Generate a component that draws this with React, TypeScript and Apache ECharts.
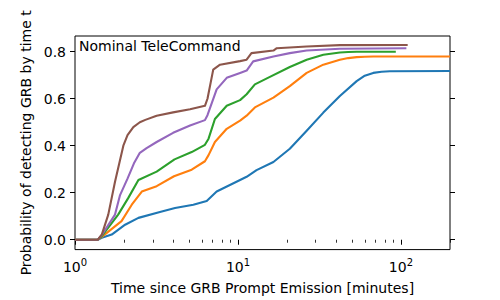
import React, { useEffect, useRef } from "react";
import * as echarts from "echarts";

const seriesColors = ["#1f77b4", "#ff7f0e", "#2ca02c", "#9467bd", "#8c564b"];

const blue: [number, number][] = [
  [1, 0], [1.38, 0], [1.46, 0.008], [1.68, 0.022], [2.03, 0.064], [2.45, 0.093],
  [3.32, 0.118], [4.11, 0.135], [5.32, 0.149], [6.43, 0.165], [7.4, 0.205],
  [10.3, 0.254], [11.3, 0.268], [13.0, 0.296], [16.5, 0.331], [20.8, 0.387],
  [26.4, 0.464], [33.4, 0.541], [42.2, 0.612], [53.5, 0.675], [60, 0.698],
  [67.6, 0.71], [76, 0.715], [85.6, 0.717], [200, 0.718],
];
const orange: [number, number][] = [
  [1, 0], [1.38, 0], [1.46, 0.012], [1.93, 0.079], [2.23, 0.149], [2.57, 0.205],
  [3.17, 0.228], [4.05, 0.27], [5.2, 0.298], [6.27, 0.334], [6.6, 0.36],
  [7.05, 0.401], [7.22, 0.416], [8.53, 0.472], [10.3, 0.507], [11.3, 0.528],
  [12.7, 0.563], [16.5, 0.605], [20.8, 0.654], [26.4, 0.71], [33.4, 0.745],
  [42.2, 0.766], [47.5, 0.773], [53.5, 0.777], [60, 0.779], [67.6, 0.78], [200, 0.78],
];
const green: [number, number][] = [
  [1, 0], [1.38, 0], [1.46, 0.015], [1.84, 0.107], [2.12, 0.177], [2.45, 0.254],
  [3.17, 0.29], [4.08, 0.342], [5.2, 0.373], [6.27, 0.404], [6.6, 0.43],
  [7.22, 0.514], [8.53, 0.57], [10.3, 0.594], [11.3, 0.619], [12.7, 0.661],
  [15.7, 0.693], [20.8, 0.735], [26.4, 0.766], [33.4, 0.787], [42.2, 0.797],
  [47.5, 0.799], [53.5, 0.8], [93, 0.8],
];
const purple: [number, number][] = [
  [1, 0], [1.38, 0], [1.46, 0.02], [1.76, 0.107], [1.89, 0.19], [2.1, 0.26],
  [2.3, 0.325], [2.5, 0.37], [2.75, 0.39], [3.17, 0.416], [4.0, 0.455], [5.08, 0.486],
  [6.27, 0.509], [6.5, 0.53], [7.4, 0.64], [8.53, 0.689], [10.3, 0.71],
  [11.3, 0.72], [12.4, 0.759], [16.5, 0.78], [20.8, 0.794], [26.4, 0.805],
  [42.2, 0.813], [108, 0.815],
];
const brown: [number, number][] = [
  [1, 0], [1.38, 0], [1.46, 0.022], [1.6, 0.107], [1.76, 0.247], [1.98, 0.4],
  [2.1, 0.445], [2.28, 0.479], [2.5, 0.5], [2.7, 0.51], [3.17, 0.528], [4.0, 0.542],
  [5.08, 0.555], [6.27, 0.57], [6.5, 0.6], [7.05, 0.724], [7.76, 0.745], [10.3, 0.76],
  [11.3, 0.766], [12.1, 0.794], [16.5, 0.805], [17.3, 0.815], [26.4, 0.822],
  [42.2, 0.828], [110, 0.829],
];

const allSeries = [blue, orange, green, purple, brown];
const xMajorTicks = [1, 10, 100];
const xMinorTicks = [2, 3, 4, 5, 6, 7, 8, 9, 20, 30, 40, 50, 60, 70, 80, 90, 200];
const yTicks = [0, 0.2, 0.4, 0.6, 0.8];
const annotation = "Nominal TeleCommand";
const xTitle = "Time since GRB Prompt Emission [minutes]";
const yTitle = "Probability of detecting GRB by time t";

const FONT = "DejaVu Sans";

export default function App() {
  const ref = useRef<HTMLDivElement>(null);
  useEffect(() => {
    document.body.style.margin = "0";
    const chart = echarts.init(ref.current!, null, { renderer: "svg" });
    const xRange = { min: 1, max: 200 };
    const yRange = { min: -0.042, max: 0.867 };
    chart.setOption({
      animation: false,
      backgroundColor: "#fff",
      textStyle: { fontFamily: FONT },
      grid: {
        left: 75, right: 50, top: 36, bottom: 48,
        show: true, borderColor: "#000", borderWidth: 1,
        backgroundColor: "transparent",
      },
      xAxis: [
        {
          type: "log", logBase: 10, ...xRange,
          axisLine: { show: false },
          splitLine: { show: false },
          axisTick: { show: true, length: 5, customValues: xMajorTicks, lineStyle: { color: "#000", width: 1 } },
          axisLabel: {
            customValues: xMajorTicks,
            margin: 9,
            color: "#000",
            formatter: (v: number) => `{a|10}{b|${Math.round(Math.log10(v))}}`,
            rich: {
              a: { fontSize: 14, fontFamily: FONT, color: "#000", lineHeight: 16 },
              b: { fontSize: 10, fontFamily: FONT, color: "#000", padding: [0, 0, 9, 0], lineHeight: 12 },
            },
          },
          name: xTitle,
          nameLocation: "middle",
          nameGap: 31,
          nameTextStyle: { fontSize: 14, fontFamily: FONT, color: "#000" },
        },
        {
          type: "log", logBase: 10, ...xRange,
          position: "bottom",
          axisLine: { show: false },
          splitLine: { show: false },
          axisTick: { show: true, length: 3, customValues: xMinorTicks, lineStyle: { color: "#000", width: 0.8 } },
          axisLabel: { show: false },
        },
      ],
      yAxis: [
        {
          type: "value", ...yRange,
          axisLine: { show: false },
          splitLine: { show: false },
          axisTick: { show: true, length: 5, customValues: yTicks, lineStyle: { color: "#000", width: 1 } },
          axisLabel: {
            customValues: yTicks,
            margin: 9,
            fontSize: 14,
            fontFamily: FONT,
            color: "#000",
            formatter: (v: number) => v.toFixed(1),
          },
          name: yTitle,
          nameLocation: "middle",
          nameGap: 36,
          nameTextStyle: { fontSize: 14, fontFamily: FONT, color: "#000" },
        },
        {
          type: "value", ...yRange,
          position: "right",
          axisLine: { show: false },
          splitLine: { show: false },
          axisTick: { show: true, length: 5, customValues: yTicks, lineStyle: { color: "#000", width: 1 } },
          axisLabel: { show: false },
        },
      ],
      graphic: [
        {
          type: "text",
          left: 79,
          top: 39,
          style: { text: annotation, fontSize: 14, fontFamily: FONT, fill: "#000" },
        },
      ],
      series: allSeries.map((d, i) => ({
        type: "line",
        data: d,
        xAxisIndex: 0,
        yAxisIndex: 0,
        symbol: "none",
        smooth: false,
        lineStyle: { color: seriesColors[i], width: 2.1, join: "round" },
        itemStyle: { color: seriesColors[i] },
        z: 2 + i,
      })),
    });
    return () => chart.dispose();
  }, []);
  return <div ref={ref} style={{ width: 500, height: 300 }} />;
}
